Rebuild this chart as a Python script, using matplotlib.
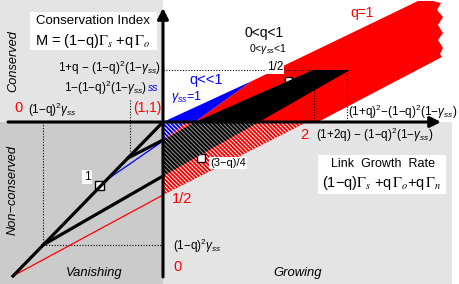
import matplotlib
matplotlib.use('Agg')
import matplotlib.pyplot as plt
from matplotlib.patches import Rectangle

plt.rcParams['font.family'] = ['Liberation Sans', 'DejaVu Sans']
plt.rcParams['mathtext.fontset'] = 'custom'
plt.rcParams['mathtext.rm'] = 'Liberation Sans'
plt.rcParams['mathtext.it'] = 'Liberation Sans:italic'
plt.rcParams['mathtext.sf'] = 'Liberation Sans'
plt.rcParams['hatch.linewidth'] = 0.7

# schematic drawn in picture units (x right, y down), origin of the axes at (163, 122)
ox, oy = 163, 122

# quadrant shading: x, y, width, height, colour
quad_x = [0, 0, 163]
quad_y = [0, 122, 122]
quad_w = [163, 163, 289]
quad_h = [122, 162, 162]
quad_c = ['#e4e4e4', '#cbcbcb', '#e4e4e4']

# regions above the growth axis (solid) and below it (hatched)
blue_x = [163, 252, 195]
blue_y = [122, 81, 122]
red_x = [195, 252, 418, 433, 441, 437, 443, 438, 443, 438, 443, 440, 442, 318]
red_y = [122, 81, 1, 1, 3, 10, 17, 25, 33, 40, 48, 54, 57, 122]
black_x = [195, 313, 350, 259]
black_y = [122, 70, 70, 122]

blue_h_x = [163, 187, 163]
blue_h_y = [122, 122, 140]
red_h_x = [163, 307, 163]
red_h_y = [122, 122, 195]
black_h_x = [163, 195, 259, 163]
black_h_y = [140, 122, 122, 176]

# lines in the vanishing quadrant
unit_x, unit_y = [13, 163], [276, 122]
half_x, half_y = [13, 163], [276, 195]
low_x, low_y = [43, 163], [245, 176]
up_x, up_y = [128, 163], [158, 140]
bl_x, bl_y = [108, 163], [179, 141]

# dotted guide lines
guides = [([163, 313], [70, 70]), ([314, 314], [70, 122]), ([347, 347], [70, 122]),
          ([130, 130], [100, 156]), ([43, 43], [122, 245]), ([43, 163], [245, 245])]

# slope markers: x, y, size
marks = [(285, 77, 7), (197, 154, 8), (95, 181, 9)]

fig = plt.figure(figsize=(4.6, 2.84), dpi=100)
ax = fig.add_axes([0, 0, 1, 1])
ax.set_xlim(0, 460)
ax.set_ylim(284, 0)
ax.axis('off')

for x, y, w, h, c in zip(quad_x, quad_y, quad_w, quad_h, quad_c):
    ax.add_patch(Rectangle((x, y), w, h, fc=c, ec='none', zorder=0))

hatch = '\\' * 8
ax.fill(red_h_x, red_h_y, fc='red', ec='white', hatch=hatch, lw=0, zorder=1)
ax.fill(blue_h_x, blue_h_y, fc='blue', ec='white', hatch=hatch, lw=0, zorder=1.2)
ax.fill(blue_x, blue_y, fc='blue', ec='none', zorder=1)
ax.fill(red_x, red_y, fc='red', ec='none', zorder=1.1)

for x, y, s in marks:
    ax.add_patch(Rectangle((x, y), s, s, fc='white', ec='k', lw=1, zorder=1.5))

ax.fill(black_h_x, black_h_y, fc='black', ec='#9a9a9a', hatch=hatch, lw=0, zorder=2)
ax.fill(black_x, black_y, fc='black', ec='none', zorder=2)

for gx, gy in guides:
    ax.plot(gx, gy, ls=(0, (1, 1.5)), color='k', lw=0.8, zorder=3)

ax.plot(half_x, half_y, color='red', lw=0.9, zorder=3)
ax.plot(bl_x, bl_y, color='blue', lw=0.9, zorder=3)
ax.plot(unit_x, unit_y, color='k', lw=2.3, zorder=4)
ax.plot(low_x, low_y, color='k', lw=2.3, zorder=4)
ax.plot(up_x, up_y, color='k', lw=2.3, zorder=4)

arrow = dict(arrowstyle='-|>', lw=2.2, color='k', mutation_scale=16, shrinkA=0, shrinkB=0)
ax.annotate('', xy=(441, oy), xytext=(8, oy), arrowprops=arrow, zorder=5)
ax.annotate('', xy=(ox, 8), xytext=(ox, 277), arrowprops=arrow, zorder=5)

# label boxes
ax.add_patch(Rectangle((30, 12), 127, 38, fc='white', ec='none', zorder=4))
ax.add_patch(Rectangle((318, 155), 128, 39, fc='white', ec='none', zorder=4))

g = r'$\gamma_{ss}$'
txt = dict(zorder=6, va='center')
ax.text(93, 21, 'Conservation Index', ha='center', fontsize=9.5, **txt)
ax.text(93, 41, 'M = (1−q)$\\Gamma_s$ +q$\\,\\Gamma_o$', ha='center', fontsize=10.5,
        math_fontfamily='stix', **txt)
ax.text(383, 164, 'Link  Growth  Rate', ha='center', fontsize=9, **txt)
ax.text(382, 183, '(1−q)$\\Gamma_s$ +q$\\,\\Gamma_o$+q$\\,\\Gamma_n$', ha='center', fontsize=10.5,
        math_fontfamily='stix', **txt)

ax.text(13, 61, 'Conserved', rotation=90, ha='center', fontsize=9.2, style='italic', **txt)
ax.text(13, 190, 'Non−conserved', rotation=90, ha='center', fontsize=9.2, style='italic', **txt)
ax.text(94, 273, 'Vanishing', ha='center', fontsize=9.4, style='italic', **txt)
ax.text(298, 273, 'Growing', ha='center', fontsize=9.4, style='italic', **txt)

ax.text(161, 68, '1+q − (1−q)$^2$(1−' + g + ')', ha='right', fontsize=8.5, **txt)
ax.text(147, 88, '1−(1−q)$^2$(1−' + g + ')', ha='right', fontsize=8.5, **txt)
ax.text(153, 88, 'ss', ha='center', fontsize=7.5, style='italic', color='blue', **txt)
ax.text(19, 108, '0', ha='center', fontsize=10.5, color='red', **txt)
ax.text(28, 110, '(1−q)$^2$' + g, ha='left', fontsize=8.5, **txt)
ax.text(147, 108, '(1,1)', ha='center', fontsize=10, color='red', **txt)

ax.text(206, 80, 'q<<1', ha='center', fontsize=10.5, color='blue', **txt)
ax.text(187, 97, g + '=1', ha='center', fontsize=9, color='blue', **txt)
ax.text(264, 33, '0<q<1', ha='center', fontsize=10, **txt)
ax.text(268, 49, '0<' + g + '<1', ha='center', fontsize=7.5, **txt)
ax.text(362, 13, 'q=1', ha='center', fontsize=10, color='red', **txt)
ax.text(275, 67, '1/2', ha='center', fontsize=8.5,
        bbox=dict(fc='white', ec='none', pad=0.5), **txt)

ax.text(348, 112, '(1+q)$^2$−(1−q)$^2$(1−' + g + ')', ha='left', fontsize=8.5, **txt)
ax.text(304, 135, '2', ha='center', fontsize=10.5, color='red', **txt)
ax.text(316, 135, '(1+2q) − (1−q)$^2$(1−' + g + ')', ha='left', fontsize=8.5, **txt)
ax.text(210, 163, '(3−q)/4', ha='left', fontsize=8,
        bbox=dict(fc='white', ec='none', pad=1), **txt)
ax.text(87, 177, '1', ha='center', fontsize=8.5,
        bbox=dict(fc='white', ec='none', pad=1), **txt)
ax.text(182, 199, '1/2', ha='center', fontsize=10.5, color='red', **txt)
ax.text(173, 246, '(1−q)$^2$' + g, ha='left', fontsize=8.5, **txt)
ax.text(178, 267, '0', ha='center', fontsize=10.5, color='red', **txt)

fig.savefig('out.png', dpi=100)
